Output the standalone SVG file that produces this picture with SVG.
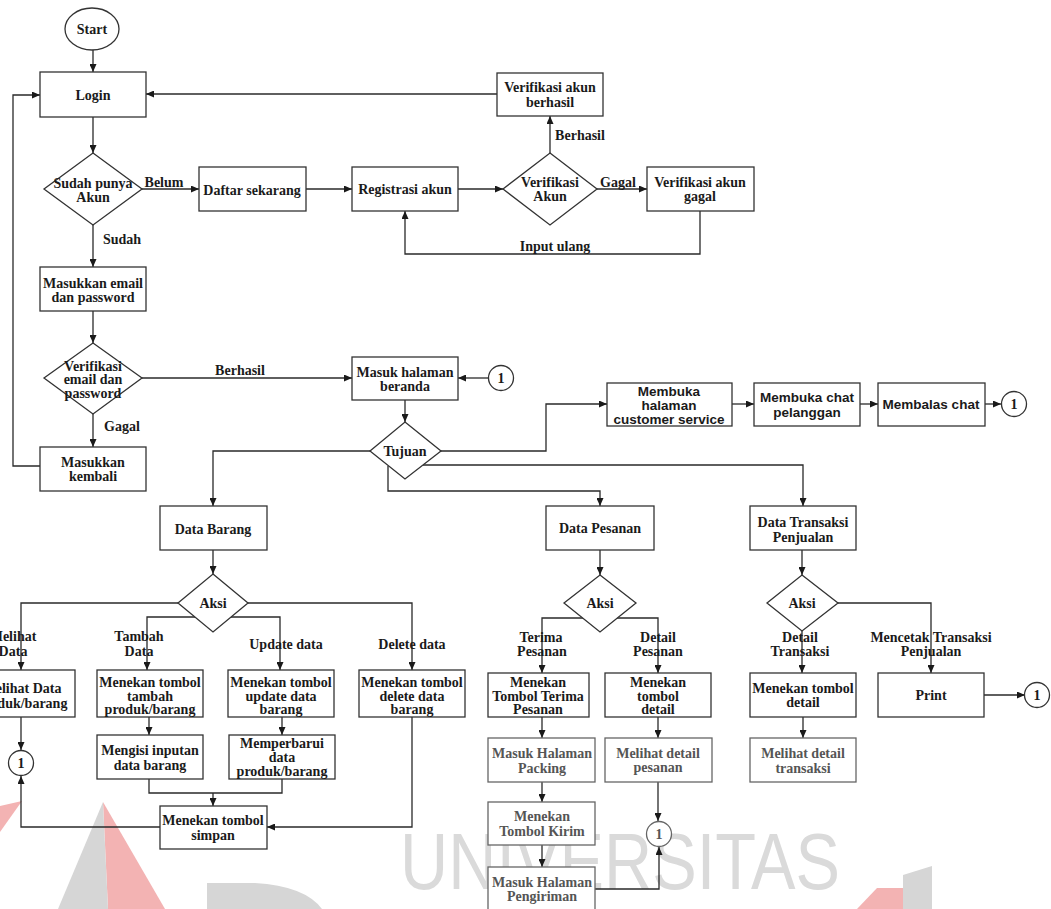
<svg xmlns="http://www.w3.org/2000/svg" width="1051" height="909" viewBox="0 0 1051 909">
<defs>
<marker id="ah" viewBox="0 0 8 7" refX="8" refY="3.5" markerWidth="8" markerHeight="7" markerUnits="userSpaceOnUse" orient="auto">
<path d="M0,0 L8,3.5 L0,7 z" fill="#1a1a1a"/>
</marker>
<style>
.b{fill:#fff;stroke:#333;stroke-width:1.3}
.f{fill:#fff;stroke:#666;stroke-width:1.3}
.t{font-family:"Liberation Serif",serif;font-weight:bold;font-size:14px;text-anchor:middle;fill:#1a1a1a}
.tf{font-family:"Liberation Serif",serif;font-weight:bold;font-size:14px;text-anchor:middle;fill:#555}
.s{font-family:"Liberation Sans",Arial,sans-serif;font-weight:bold;font-size:13.5px;text-anchor:middle;fill:#1a1a1a}
.c{fill:none;stroke:#2a2a2a;stroke-width:1.3}
.ca{fill:none;stroke:#2a2a2a;stroke-width:1.3;marker-end:url(#ah)}
</style>
</defs>
<rect width="1051" height="909" fill="#fff"/>
<g id="watermark">
<polygon points="103,802 165,909 108,909" fill="#f3b3b3"/>
<polygon points="103,802 108,909 58,909" fill="#d6d6d6"/>
<polygon points="0,806 22,801 0,832" fill="#f3b3b3"/>
<path d="M207,883 L255,883 Q305,886 322,909 L207,909 Z" fill="#d6d6d6"/>
<polygon points="857,909 877,888 903,888 903,909" fill="#f3b3b3"/>
<polygon points="903,875 932,866 932,909 903,909" fill="#d6d6d6"/>
<text x="400" y="889" font-family="Liberation Sans, Arial, sans-serif" font-size="80" fill="#dadada" textLength="440" lengthAdjust="spacingAndGlyphs">UNIVERSITAS</text>
</g>
<g id="connectors">
<path class="ca" d="M93,50 L93,72"/>
<path class="ca" d="M93,117 L93,153"/>
<path class="ca" d="M142,189 L199,189"/>
<path class="ca" d="M306,189 L352,189"/>
<path class="ca" d="M458,189 L503,189"/>
<path class="ca" d="M597,189 L647,189"/>
<path class="ca" d="M550,153 L550,116"/>
<path class="ca" d="M497,94 L146,94"/>
<path class="ca" d="M700,211 L700,254 L405,254 L405,211"/>
<path class="ca" d="M93,225 L93,267"/>
<path class="ca" d="M93,311 L93,343"/>
<path class="ca" d="M142,378 L352,378"/>
<path class="ca" d="M93,414 L93,447"/>
<path class="ca" d="M40,466 L13,466 L13,95 L40,95"/>
<path class="ca" d="M488,378 L458,378"/>
<path class="ca" d="M405,400 L405,422"/>
<path class="ca" d="M370,451 L213,451 L213,506"/>
<path class="ca" d="M441,451 L546,451 L546,404 L607,404"/>
<path class="ca" d="M423,465 L803,465 L803,506"/>
<path class="ca" d="M388,466 L388,491 L600,491 L600,506"/>
<path class="ca" d="M732,404 L754,404"/>
<path class="ca" d="M860,404 L878,404"/>
<path class="ca" d="M985,404 L1001,404"/>
<path class="ca" d="M213,550 L213,574"/>
<path class="ca" d="M178,603 L21,603 L21,670"/>
<path class="ca" d="M195,617 L147,617 L147,670"/>
<path class="ca" d="M231,617 L280,617 L280,670"/>
<path class="ca" d="M248,603 L412,603 L412,670"/>
<path class="ca" d="M21,717 L21,750"/>
<path class="ca" d="M149,717 L149,735"/>
<path class="ca" d="M282,717 L282,735"/>
<path class="c" d="M149,779 L149,793 L282,793 L282,779"/>
<path class="ca" d="M213,793 L213,806"/>
<path class="ca" d="M160,827 L21,827 L21,776"/>
<path class="ca" d="M412,717 L412,827 L267,827"/>
<path class="ca" d="M600,550 L600,575"/>
<path class="ca" d="M583,618 L542,618 L542,673"/>
<path class="ca" d="M617,618 L658,618 L658,673"/>
<path class="ca" d="M542,717 L542,738"/>
<path class="ca" d="M542,782 L542,802"/>
<path class="ca" d="M542,845 L542,867"/>
<path class="ca" d="M658,717 L658,738"/>
<path class="ca" d="M658,782 L658,821"/>
<path class="ca" d="M595,889 L659,889 L659,847"/>
<path class="ca" d="M802,550 L802,575"/>
<path class="ca" d="M802,631 L802,673"/>
<path class="ca" d="M838,603 L931,603 L931,673"/>
<path class="ca" d="M803,717 L803,738"/>
<path class="ca" d="M984,695 L1025,695"/>
</g>
<g id="labels">
<text class="t" x="164" y="187">Belum</text>
<text class="t" x="122" y="244">Sudah</text>
<text class="t" x="580" y="140">Berhasil</text>
<text class="t" x="618" y="187">Gagal</text>
<text class="t" x="555" y="251">Input ulang</text>
<text class="t" x="240" y="375">Berhasil</text>
<text class="t" x="122" y="431">Gagal</text>
<text class="t" x="13" y="641">Melihat</text>
<text class="t" x="13" y="656">Data</text>
<text class="t" x="139" y="641">Tambah</text>
<text class="t" x="139" y="656">Data</text>
<text class="t" x="286" y="649">Update data</text>
<text class="t" x="412" y="649">Delete data</text>
<text class="t" x="541" y="642">Terima</text>
<text class="t" x="542" y="656">Pesanan</text>
<text class="t" x="658" y="642">Detail</text>
<text class="t" x="658" y="656">Pesanan</text>
<text class="t" x="800" y="642">Detail</text>
<text class="t" x="800" y="656">Transaksi</text>
<text class="t" x="931" y="642">Mencetak Transaksi</text>
<text class="t" x="931" y="656">Penjualan</text>
</g>
<g id="start"><ellipse class="b" cx="92" cy="29" rx="27" ry="21"/><text class="t" x="92" y="34">Start</text></g>
<g id="login"><rect class="b" x="40" y="72" width="106" height="45"/><text class="t" x="93" y="100">Login</text></g>
<g id="sudah-punya-akun"><polygon class="b" points="93,153 142,189 93,225 44,189"/><text class="t" x="93" y="188">Sudah punya</text><text class="t" x="93" y="202">Akun</text></g>
<g id="daftar-sekarang"><rect class="b" x="199" y="167" width="107" height="44"/><text class="t" x="252" y="195">Daftar sekarang</text></g>
<g id="registrasi-akun"><rect class="b" x="352" y="167" width="106" height="44"/><text class="t" x="405" y="194">Registrasi akun</text></g>
<g id="verifikasi-akun"><polygon class="b" points="550,153 597,189 550,225 503,189"/><text class="t" x="550" y="187">Verifikasi</text><text class="t" x="550" y="201">Akun</text></g>
<g id="verifikasi-gagal"><rect class="b" x="647" y="167" width="107" height="44"/><text class="t" x="700" y="187">Verifikasi akun</text><text class="t" x="700" y="201">gagal</text></g>
<g id="verifikasi-berhasil"><rect class="b" x="497" y="73" width="106" height="43"/><text class="t" x="550" y="92">Verifikasi akun</text><text class="t" x="550" y="107">berhasil</text></g>
<g id="masukkan-email"><rect class="b" x="40" y="267" width="106" height="44"/><text class="t" x="93" y="288">Masukkan email</text><text class="t" x="93" y="302">dan password</text></g>
<g id="verifikasi-email"><polygon class="b" points="93,343 142,378 93,414 44,378"/><text class="t" x="93" y="371">Verifikasi</text><text class="t" x="93" y="384">email dan</text><text class="t" x="93" y="398">password</text></g>
<g id="masukkan-kembali"><rect class="b" x="40" y="447" width="106" height="44"/><text class="t" x="93" y="467">Masukkan</text><text class="t" x="93" y="481">kembali</text></g>
<g id="masuk-beranda"><rect class="b" x="352" y="357" width="106" height="43"/><text class="t" x="405" y="377">Masuk halaman</text><text class="t" x="405" y="391">beranda</text></g>
<g id="conn-1a"><circle class="b" cx="501" cy="378" r="12.5"/><text class="t" x="501" y="383">1</text></g>
<g id="tujuan"><polygon class="b" points="405,422 441,451 405,479 370,451"/><text class="t" x="405" y="456">Tujuan</text></g>
<g id="customer-service"><rect class="b" x="607" y="383" width="125" height="43"/><text class="s" x="669" y="396">Membuka</text><text class="s" x="669" y="410">halaman</text><text class="s" x="669" y="424">customer service</text></g>
<g id="chat-pelanggan"><rect class="b" x="754" y="383" width="106" height="43"/><text class="s" x="807" y="402">Membuka chat</text><text class="s" x="807" y="417">pelanggan</text></g>
<g id="membalas-chat"><rect class="b" x="878" y="383" width="107" height="43"/><text class="s" x="931" y="409">Membalas chat</text></g>
<g id="conn-1b"><circle class="b" cx="1014" cy="404" r="12.5"/><text class="t" x="1014" y="409">1</text></g>
<g id="data-barang"><rect class="b" x="160" y="506" width="107" height="44"/><text class="t" x="213" y="534">Data Barang</text></g>
<g id="aksi-barang"><polygon class="b" points="213,574 248,603 213,632 178,603"/><text class="t" x="213" y="608">Aksi</text></g>
<g id="melihat-data"><rect class="b" x="-31" y="670" width="106" height="47"/><text class="t" x="22" y="693">Melihat Data</text><text class="t" x="22" y="708">produk/barang</text></g>
<g id="tombol-tambah"><rect class="b" x="97" y="670" width="106" height="47"/><text class="t" x="150" y="687">Menekan tombol</text><text class="t" x="150" y="701">tambah</text><text class="t" x="150" y="714">produk/barang</text></g>
<g id="tombol-update"><rect class="b" x="228" y="670" width="106" height="47"/><text class="t" x="281" y="687">Menekan tombol</text><text class="t" x="281" y="701">update data</text><text class="t" x="281" y="714">barang</text></g>
<g id="tombol-delete"><rect class="b" x="359" y="670" width="106" height="47"/><text class="t" x="412" y="687">Menekan tombol</text><text class="t" x="412" y="701">delete data</text><text class="t" x="412" y="714">barang</text></g>
<g id="conn-1c"><circle class="b" cx="21" cy="763" r="12.5"/><text class="t" x="21" y="768">1</text></g>
<g id="mengisi-inputan"><rect class="b" x="97" y="735" width="106" height="44"/><text class="t" x="150" y="755">Mengisi inputan</text><text class="t" x="150" y="770">data barang</text></g>
<g id="memperbarui"><rect class="b" x="229" y="735" width="106" height="44"/><text class="t" x="282" y="748">Memperbarui</text><text class="t" x="282" y="762">data</text><text class="t" x="282" y="776">produk/barang</text></g>
<g id="tombol-simpan"><rect class="b" x="160" y="806" width="107" height="43"/><text class="t" x="213" y="825">Menekan tombol</text><text class="t" x="213" y="840">simpan</text></g>
<g id="data-pesanan"><rect class="b" x="546" y="506" width="108" height="44"/><text class="t" x="600" y="533">Data Pesanan</text></g>
<g id="aksi-pesanan"><polygon class="b" points="600,575 636,603 600,632 564,603"/><text class="t" x="600" y="608">Aksi</text></g>
<g id="tombol-terima"><rect class="b" x="488" y="673" width="101" height="44"/><text class="t" x="538" y="687">Menekan</text><text class="t" x="538" y="701">Tombol Terima</text><text class="t" x="538" y="714">Pesanan</text></g>
<g id="tombol-detail-pesanan"><rect class="b" x="605" y="673" width="106" height="44"/><text class="t" x="658" y="687">Menekan</text><text class="t" x="658" y="701">tombol</text><text class="t" x="658" y="714">detail</text></g>
<g id="halaman-packing"><rect class="f" x="488" y="738" width="107" height="44"/><text class="tf" x="542" y="758">Masuk Halaman</text><text class="tf" x="542" y="773">Packing</text></g>
<g id="detail-pesanan"><rect class="f" x="605" y="738" width="107" height="44"/><text class="tf" x="658" y="758">Melihat detail</text><text class="tf" x="658" y="772">pesanan</text></g>
<g id="tombol-kirim"><rect class="f" x="488" y="802" width="107" height="43"/><text class="tf" x="542" y="821">Menekan</text><text class="tf" x="542" y="836">Tombol Kirim</text></g>
<g id="halaman-pengiriman"><rect class="f" x="488" y="867" width="107" height="44"/><text class="tf" x="542" y="887">Masuk Halaman</text><text class="tf" x="542" y="901">Pengiriman</text></g>
<g id="conn-1d"><circle class="f" cx="659" cy="834" r="12.5"/><text class="tf" x="659" y="839">1</text></g>
<g id="data-transaksi"><rect class="b" x="750" y="506" width="106" height="44"/><text class="t" x="803" y="527">Data Transaksi</text><text class="t" x="803" y="542">Penjualan</text></g>
<g id="aksi-transaksi"><polygon class="b" points="802,575 838,603 802,631 767,603"/><text class="t" x="802" y="608">Aksi</text></g>
<g id="tombol-detail-transaksi"><rect class="b" x="750" y="673" width="106" height="44"/><text class="t" x="803" y="693">Menekan tombol</text><text class="t" x="803" y="707">detail</text></g>
<g id="print"><rect class="b" x="878" y="673" width="106" height="44"/><text class="t" x="931" y="700">Print</text></g>
<g id="detail-transaksi"><rect class="f" x="750" y="738" width="106" height="44"/><text class="tf" x="803" y="758">Melihat detail</text><text class="tf" x="803" y="773">transaksi</text></g>
<g id="conn-1e"><circle class="b" cx="1037" cy="695" r="12.5"/><text class="t" x="1037" y="700">1</text></g>
</svg>
